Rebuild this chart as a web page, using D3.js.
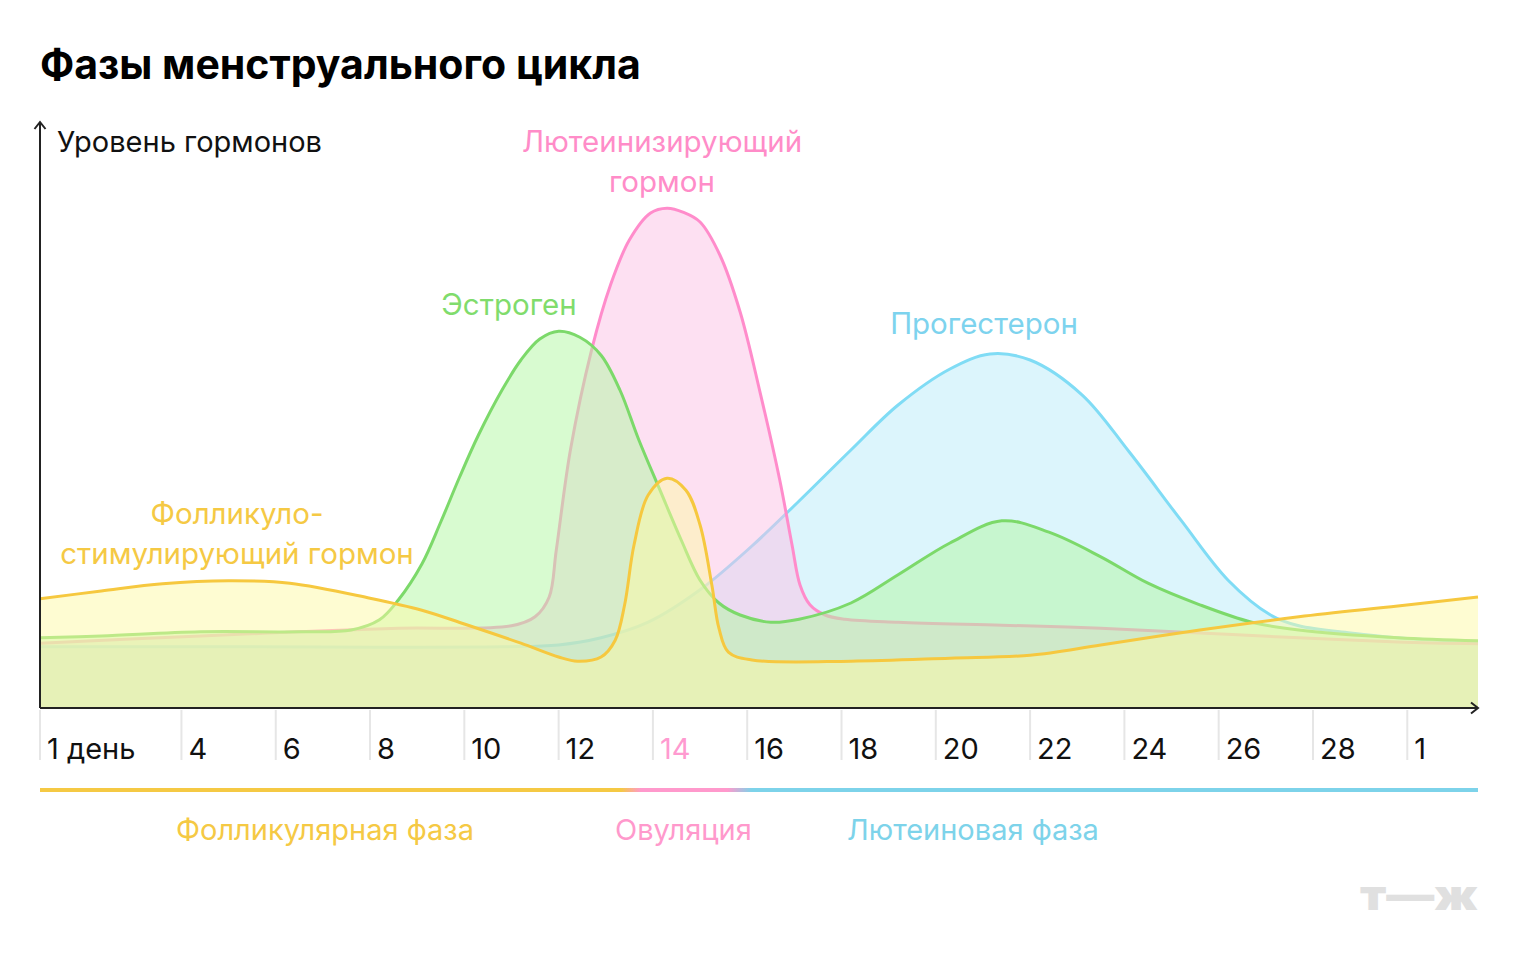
<!DOCTYPE html>
<html>
<head>
<meta charset="utf-8">
<script src="https://cdn.jsdelivr.net/npm/d3@7"></script>
<style>
  body { margin: 0; background: #fff; }
  svg text { font-family: Inter, Roboto, "Noto Sans", sans-serif; }
</style>
</head>
<body>
<svg id="chart" width="1520" height="970"></svg>
<script>
// days of cycle (31.5 = right edge, day 1 of next cycle is 30)
var tickDays = [1, 4, 6, 8, 10, 12, 14, 16, 18, 20, 22, 24, 26, 28, 30];
var tickLabels = ["1 день", "4", "6", "8", "10", "12", "14", "16", "18", "20", "22", "24", "26", "28", "1"];

// hormone levels, arbitrary units 0..100
var fshDays = [1, 2.3, 3.6, 5, 6.3, 8, 9.1, 10, 11.2, 12, 12.4, 12.9, 13.2, 13.4, 13.6, 13.9, 14.3, 14.7, 15, 15.25, 15.4, 15.6, 16.1, 18.2, 20.3, 22, 23.5, 25.6, 27.7, 29.8, 31.5];
var fshVals = [18.2, 19.5, 20.7, 21.2, 20.8, 18.3, 16.3, 14, 10.8, 8.5, 7.8, 8.5, 11.3, 17.2, 27.2, 35.5, 38.3, 36.3, 30.5, 20.5, 13.3, 9.3, 8, 7.8, 8.3, 8.8, 10.5, 13, 15.2, 17, 18.5];

var estDays = [1, 2.3, 4.4, 6.5, 7.6, 8.2, 8.6, 9.1, 9.5, 9.9, 10.3, 10.8, 11.2, 11.6, 12, 12.45, 12.9, 13.3, 13.7, 14.15, 14.6, 15, 15.4, 15.85, 16.5, 17.1, 18.2, 19.2, 20.3, 21.4, 22.4, 23.5, 24.5, 25.6, 26.7, 27.7, 29.8, 31.5];
var estVals = [11.7, 12, 12.7, 12.7, 13, 14.7, 18, 24, 31, 38.5, 45.5, 53, 58, 61.5, 62.8, 61.8, 58.8, 53, 44.7, 36.3, 28, 21.3, 17.5, 15.5, 14.3, 14.8, 17.5, 22.2, 27.5, 31.2, 29.3, 25.2, 20.8, 17.2, 14.3, 13, 11.7, 11.2];

var progDays = [1, 5, 10.8, 12, 12.9, 13.9, 15, 16.1, 17.1, 18.2, 19.2, 20.3, 21.15, 22, 23.1, 24.1, 25.2, 26.2, 27.1, 27.7, 28.8, 29.8, 31.5];
var progVals = [10.2, 10.2, 10.2, 10.5, 11.7, 14.3, 19.7, 27, 34.5, 43, 50.5, 56.5, 59, 58, 52.2, 42.7, 31.3, 21.3, 15.5, 13.7, 12.5, 11.7, 11];

var lhDays = [1, 4.4, 6.5, 8.6, 11, 11.5, 11.8, 11.95, 12.25, 12.7, 13.1, 13.5, 13.95, 14.3, 14.65, 15, 15.42, 15.85, 16.27, 16.69, 16.95, 17.12, 17.33, 17.65, 18.07, 19.2, 21.4, 23.5, 25.6, 27.7, 29.8, 31.5];
var lhVals = [10.8, 12, 12.7, 13.3, 13.7, 15.2, 18.5, 26.3, 43, 59.7, 70.5, 78, 82.5, 83.3, 82.6, 81, 75.5, 66, 52.7, 38, 27.2, 20.5, 17.2, 15.5, 14.8, 14.3, 13.8, 13.3, 12.5, 11.7, 11, 10.7];

// bottom-to-top drawing order
var series = [
  { name: "prog", days: progDays, vals: progVals, fill: "#b9ebf9", stroke: "#80dcf5" },
  { name: "lh", days: lhDays, vals: lhVals, fill: "#fbc1e5", stroke: "#ff8ccb" },
  { name: "est", days: estDays, vals: estVals, fill: "#b1f7a1", stroke: "#7cd96a" },
  { name: "fsh", days: fshDays, vals: fshVals, fill: "#fdf9a5", stroke: "#f6c83f" }
];

var svg = d3.select("#chart");
var x = d3.scaleLinear().domain([1, 31.5]).range([40, 1478]);
var y = d3.scaleLinear().domain([0, 100]).range([708, 108]);
var curve = d3.curveCatmullRom.alpha(0.5);

// title
svg.append("text").attr("x", 40).attr("y", 79)
  .style("font-size", "41px").style("font-weight", 700).attr("fill", "#000")
  .text("Фазы менструального цикла");

// areas
series.forEach(function (s) {
  var pts = s.days.map(function (d, i) { return [d, s.vals[i]]; });
  var area = d3.area().x(function (d) { return x(d[0]); }).y0(y(0)).y1(function (d) { return y(d[1]); })
    .curve(curve);
  var line = d3.line().x(function (d) { return x(d[0]); }).y(function (d) { return y(d[1]); })
    .curve(curve);
  var g = svg.append("g").attr("class", s.name);
  g.append("path").datum(pts).attr("d", area).attr("fill", s.fill).attr("fill-opacity", 0.5);
  g.append("path").datum(pts).attr("d", line).attr("fill", "none").attr("stroke", s.stroke)
    .attr("stroke-width", 3);
});

// x ticks
var tickG = svg.append("g");
tickG.selectAll("line").data(tickDays).enter().append("line")
  .attr("x1", function (d) { return x(d); }).attr("x2", function (d) { return x(d); })
  .attr("y1", 710).attr("y2", 760).attr("stroke", "#e6e6e6").attr("stroke-width", 2);
tickG.selectAll("text").data(tickDays).enter().append("text")
  .attr("x", function (d) { return x(d) + 7; }).attr("y", 759)
  .style("font-size", "29px")
  .attr("fill", function (d) { return d === 14 ? "#ff9ad0" : "#111"; })
  .text(function (d, i) { return tickLabels[i]; });

// axes with arrows
svg.append("path").attr("d", "M40,708 V122 M34.5,129 L40,122 L45.5,129")
  .attr("fill", "none").attr("stroke", "#222").attr("stroke-width", 2);
svg.append("path").attr("d", "M40,708 H1478 M1471,702.5 L1478,708 L1471,713.5")
  .attr("fill", "none").attr("stroke", "#222").attr("stroke-width", 2);

svg.append("text").attr("x", 57).attr("y", 152).style("font-size", "29px").attr("fill", "#111")
  .text("Уровень гормонов");

// series labels
function label(lines, cx, y0, color) {
  var t = svg.append("text").attr("text-anchor", "middle").style("font-size", "29.5px").attr("fill", color);
  lines.forEach(function (l, i) {
    t.append("tspan").attr("x", cx).attr("y", y0 + i * 40).text(l);
  });
}
label(["Лютеинизирующий", "гормон"], 662, 152, "#ff8cc8");
label(["Эстроген"], 509, 315, "#80dc6c");
label(["Прогестерон"], 984, 334, "#7dd3ee");
label(["Фолликуло-", "стимулирующий гормон"], 237, 524, "#f5c944");

// phase bar
var grad = svg.append("defs").append("linearGradient").attr("id", "phase")
  .attr("gradientUnits", "userSpaceOnUse").attr("x1", 40).attr("x2", 1478).attr("y1", 0).attr("y2", 0);
[[0, "#f5c944"], [0.404, "#f5c944"], [0.418, "#ff99cc"], [0.478, "#ff99cc"], [0.495, "#7dd3ea"], [1, "#7dd3ea"]]
  .forEach(function (s) { grad.append("stop").attr("offset", s[0]).attr("stop-color", s[1]); });
svg.append("rect").attr("x", 40).attr("y", 788).attr("width", 1438).attr("height", 4).attr("fill", "url(#phase)");

var phases = [["Фолликулярная фаза", 176, "#f5c944"], ["Овуляция", 615, "#ff99cc"], ["Лютеиновая фаза", 847, "#7dd3ea"]];
svg.selectAll(".phase").data(phases).enter().append("text").attr("class", "phase")
  .attr("x", function (d) { return d[1]; }).attr("y", 840).style("font-size", "29px")
  .attr("fill", function (d) { return d[2]; }).text(function (d) { return d[0]; });

// logo
svg.append("text").attr("x", 1360).attr("y", 910).attr("textLength", 118).attr("lengthAdjust", "spacingAndGlyphs")
  .style("font-size", "42px").style("font-weight", 900).attr("fill", "#e0e0e0").text("т—ж");
</script>
</body>
</html>
